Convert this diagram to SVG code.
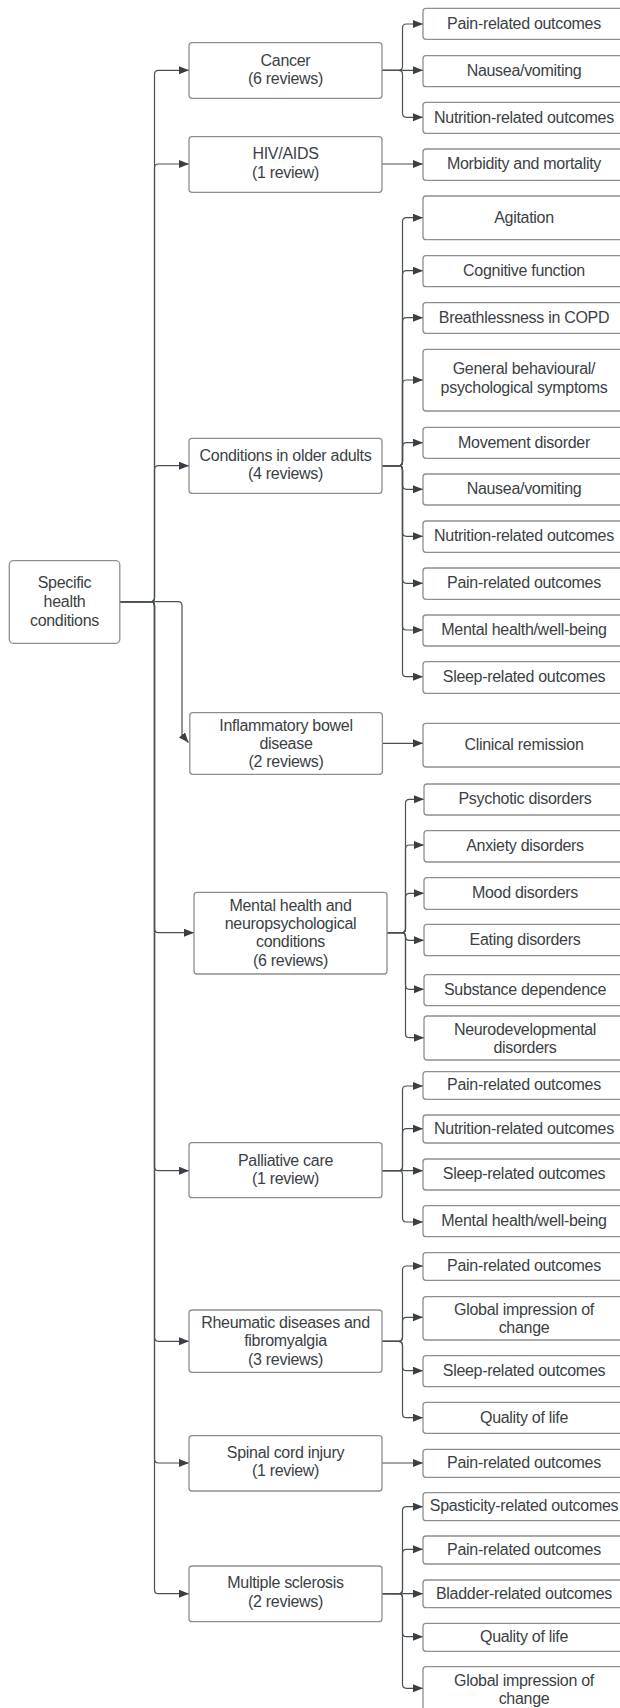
<svg xmlns="http://www.w3.org/2000/svg" width="620" height="1708" viewBox="0 0 620 1708">
<defs>
<style>
.bx{fill:#ffffff;stroke:#8e8e8e;stroke-width:1.3}
.t{font-family:"Liberation Sans",Arial,sans-serif;font-size:16px;letter-spacing:-0.3px;fill:#3b3f45;text-anchor:middle}
.c{fill:none;stroke:#4a4f56;stroke-width:1.2}
</style>
<marker id="ah" markerUnits="userSpaceOnUse" markerWidth="12" markerHeight="10" refX="10" refY="4" orient="auto"><path d="M0,0 L10,4 L0,8 Z" fill="#3a3f46"/></marker>
</defs>
<rect width="620" height="1708" fill="#ffffff"/>

<g id="connectors">
<path class="c" marker-end="url(#ah)" d="M120 601.7 H150.5 Q154.5 601.7 154.5 597.7 V74.3 Q154.5 70.3 158.5 70.3 H189"/>
<path class="c" marker-end="url(#ah)" d="M120 601.7 H150.5 Q154.5 601.7 154.5 597.7 V168 Q154.5 164 158.5 164 H189"/>
<path class="c" marker-end="url(#ah)" d="M120 601.7 H150.5 Q154.5 601.7 154.5 597.7 V469.7 Q154.5 465.7 158.5 465.7 H189"/>
<path class="c" marker-end="url(#ah)" d="M120 601.7 H178 Q182 601.7 182 605.7 V735 L188.5 742.5"/>
<path class="c" marker-end="url(#ah)" d="M120 601.7 H150.5 Q154.5 601.7 154.5 605.7 V928.7 Q154.5 932.7 158.5 932.7 H194"/>
<path class="c" marker-end="url(#ah)" d="M120 601.7 H150.5 Q154.5 601.7 154.5 605.7 V1166.7 Q154.5 1170.7 158.5 1170.7 H189"/>
<path class="c" marker-end="url(#ah)" d="M120 601.7 H150.5 Q154.5 601.7 154.5 605.7 V1337.3 Q154.5 1341.3 158.5 1341.3 H189"/>
<path class="c" marker-end="url(#ah)" d="M120 601.7 H150.5 Q154.5 601.7 154.5 605.7 V1459 Q154.5 1463 158.5 1463 H189"/>
<path class="c" marker-end="url(#ah)" d="M120 601.7 H150.5 Q154.5 601.7 154.5 605.7 V1589.7 Q154.5 1593.7 158.5 1593.7 H189"/>

<path class="c" marker-end="url(#ah)" d="M382 70.3 H398.5 Q402.5 70.3 402.5 66.3 V28 Q402.5 24 406.5 24 H423"/>
<path class="c" marker-end="url(#ah)" d="M382 70.3 H423"/>
<path class="c" marker-end="url(#ah)" d="M382 70.3 H398.5 Q402.5 70.3 402.5 74.3 V113.3 Q402.5 117.3 406.5 117.3 H423"/>

<path class="c" marker-end="url(#ah)" d="M382 164 H423"/>

<path class="c" marker-end="url(#ah)" d="M382 465.7 H398.5 Q402.5 465.7 402.5 461.7 V221.7 Q402.5 217.7 406.5 217.7 H423"/>
<path class="c" marker-end="url(#ah)" d="M382 465.7 H398.5 Q402.5 465.7 402.5 461.7 V274.7 Q402.5 270.7 406.5 270.7 H423"/>
<path class="c" marker-end="url(#ah)" d="M382 465.7 H398.5 Q402.5 465.7 402.5 461.7 V321.7 Q402.5 317.7 406.5 317.7 H423"/>
<path class="c" marker-end="url(#ah)" d="M382 465.7 H398.5 Q402.5 465.7 402.5 461.7 V384 Q402.5 380 406.5 380 H423"/>
<path class="c" marker-end="url(#ah)" d="M382 465.7 H398.5 Q402.5 465.7 402.5 461.7 V446.7 Q402.5 442.7 406.5 442.7 H423"/>
<path class="c" marker-end="url(#ah)" d="M382 465.7 H398.5 Q402.5 465.7 402.5 469.7 V485.3 Q402.5 489.3 406.5 489.3 H423"/>
<path class="c" marker-end="url(#ah)" d="M382 465.7 H398.5 Q402.5 465.7 402.5 469.7 V532.3 Q402.5 536.3 406.5 536.3 H423"/>
<path class="c" marker-end="url(#ah)" d="M382 465.7 H398.5 Q402.5 465.7 402.5 469.7 V579.3 Q402.5 583.3 406.5 583.3 H423"/>
<path class="c" marker-end="url(#ah)" d="M382 465.7 H398.5 Q402.5 465.7 402.5 469.7 V626 Q402.5 630 406.5 630 H423"/>
<path class="c" marker-end="url(#ah)" d="M382 465.7 H398.5 Q402.5 465.7 402.5 469.7 V672.7 Q402.5 676.7 406.5 676.7 H423"/>

<path class="c" marker-end="url(#ah)" d="M382 743.3 H423"/>

<path class="c" marker-end="url(#ah)" d="M387 932.7 H401.5 Q405.5 932.7 405.5 928.7 V803.3 Q405.5 799.3 409.5 799.3 H424"/>
<path class="c" marker-end="url(#ah)" d="M387 932.7 H401.5 Q405.5 932.7 405.5 928.7 V849 Q405.5 845 409.5 845 H424"/>
<path class="c" marker-end="url(#ah)" d="M387 932.7 H401.5 Q405.5 932.7 405.5 928.7 V897.3 Q405.5 893.3 409.5 893.3 H424"/>
<path class="c" marker-end="url(#ah)" d="M387 932.7 H401.5 Q405.5 932.7 405.5 936.7 Q405.5 940.3 409.5 940.3 H424"/>
<path class="c" marker-end="url(#ah)" d="M387 932.7 H401.5 Q405.5 932.7 405.5 936.7 V985.3 Q405.5 989.3 409.5 989.3 H424"/>
<path class="c" marker-end="url(#ah)" d="M387 932.7 H401.5 Q405.5 932.7 405.5 936.7 V1033.7 Q405.5 1037.7 409.5 1037.7 H424"/>

<path class="c" marker-end="url(#ah)" d="M382 1170.7 H398.5 Q402.5 1170.7 402.5 1166.7 V1090 Q402.5 1086 406.5 1086 H423"/>
<path class="c" marker-end="url(#ah)" d="M382 1170.7 H398.5 Q402.5 1170.7 402.5 1166.7 V1132.7 Q402.5 1128.7 406.5 1128.7 H423"/>
<path class="c" marker-end="url(#ah)" d="M382 1170.7 H423"/>
<path class="c" marker-end="url(#ah)" d="M382 1170.7 H398.5 Q402.5 1170.7 402.5 1174.7 V1218 Q402.5 1222 406.5 1222 H423"/>

<path class="c" marker-end="url(#ah)" d="M382 1341.3 H398.5 Q402.5 1341.3 402.5 1337.3 V1270 Q402.5 1266 406.5 1266 H423"/>
<path class="c" marker-end="url(#ah)" d="M382 1341.3 H398.5 Q402.5 1341.3 402.5 1337.3 V1321.3 Q402.5 1317.3 406.5 1317.3 H423"/>
<path class="c" marker-end="url(#ah)" d="M382 1341.3 H398.5 Q402.5 1341.3 402.5 1345.3 V1366.7 Q402.5 1370.7 406.5 1370.7 H423"/>
<path class="c" marker-end="url(#ah)" d="M382 1341.3 H398.5 Q402.5 1341.3 402.5 1345.3 V1413.7 Q402.5 1417.7 406.5 1417.7 H423"/>

<path class="c" marker-end="url(#ah)" d="M382 1463 H423"/>

<path class="c" marker-end="url(#ah)" d="M382 1593.7 H398.5 Q402.5 1593.7 402.5 1589.7 V1510.7 Q402.5 1506.7 406.5 1506.7 H423"/>
<path class="c" marker-end="url(#ah)" d="M382 1593.7 H398.5 Q402.5 1593.7 402.5 1589.7 V1553.3 Q402.5 1549.3 406.5 1549.3 H423"/>
<path class="c" marker-end="url(#ah)" d="M382 1593.7 H423"/>
<path class="c" marker-end="url(#ah)" d="M382 1593.7 H398.5 Q402.5 1593.7 402.5 1597.7 V1632.7 Q402.5 1636.7 406.5 1636.7 H423"/>
<path class="c" marker-end="url(#ah)" d="M382 1593.7 H398.5 Q402.5 1593.7 402.5 1597.7 V1684.3 Q402.5 1688.3 406.5 1688.3 H423"/>
</g>

<g id="root"><rect class="bx" x="9.3" y="560.7" width="110.5" height="82.6" rx="4"/>
<text class="t" x="64.5" y="588">Specific</text><text class="t" x="64.5" y="606.7">health</text><text class="t" x="64.5" y="625.7">conditions</text></g>

<g id="cancer"><rect class="bx" x="189" y="42.7" width="193" height="55.6" rx="3"/>
<text class="t" x="285.5" y="65.7">Cancer</text><text class="t" x="285.5" y="83.7">(6 reviews)</text></g>
<g id="cancer-pain"><rect class="bx" x="423" y="8.3" width="204" height="31" rx="3"/><text class="t" x="524" y="28.5">Pain-related outcomes</text></g>
<g id="cancer-nausea"><rect class="bx" x="423" y="55.7" width="204" height="31" rx="3"/><text class="t" x="524" y="75.9">Nausea/vomiting</text></g>
<g id="cancer-nutrition"><rect class="bx" x="423" y="102.3" width="204" height="31" rx="3"/><text class="t" x="524" y="122.5">Nutrition-related outcomes</text></g>

<g id="hiv"><rect class="bx" x="189" y="136.7" width="193" height="55.6" rx="3"/>
<text class="t" x="285.5" y="159.4">HIV/AIDS</text><text class="t" x="285.5" y="178">(1 review)</text></g>
<g id="hiv-morbidity"><rect class="bx" x="423" y="149" width="204" height="31.3" rx="3"/><text class="t" x="524" y="169.4">Morbidity and mortality</text></g>

<g id="older"><rect class="bx" x="189" y="438.3" width="193" height="55" rx="3"/>
<text class="t" x="285.5" y="460.7">Conditions in older adults</text><text class="t" x="285.5" y="479">(4 reviews)</text></g>
<g id="older-agitation"><rect class="bx" x="423" y="196" width="204" height="43.7" rx="3"/><text class="t" x="524" y="222.6">Agitation</text></g>
<g id="older-cognitive"><rect class="bx" x="423" y="255.7" width="204" height="31" rx="3"/><text class="t" x="524" y="275.9">Cognitive function</text></g>
<g id="older-breath"><rect class="bx" x="423" y="302.7" width="204" height="30.6" rx="3"/><text class="t" x="524" y="322.7">Breathlessness in COPD</text></g>
<g id="older-general"><rect class="bx" x="423" y="349.3" width="204" height="61.7" rx="3"/><text class="t" x="524" y="374.4">General behavioural/</text><text class="t" x="524" y="393">psychological symptoms</text></g>
<g id="older-movement"><rect class="bx" x="423" y="427.3" width="204" height="31" rx="3"/><text class="t" x="524" y="447.5">Movement disorder</text></g>
<g id="older-nausea"><rect class="bx" x="423" y="474" width="204" height="31" rx="3"/><text class="t" x="524" y="494.2">Nausea/vomiting</text></g>
<g id="older-nutrition"><rect class="bx" x="423" y="521" width="204" height="31.3" rx="3"/><text class="t" x="524" y="541.4">Nutrition-related outcomes</text></g>
<g id="older-pain"><rect class="bx" x="423" y="568" width="204" height="31.3" rx="3"/><text class="t" x="524" y="588.4">Pain-related outcomes</text></g>
<g id="older-mental"><rect class="bx" x="423" y="615" width="204" height="31" rx="3"/><text class="t" x="524" y="635.2">Mental health/well-being</text></g>
<g id="older-sleep"><rect class="bx" x="423" y="661.7" width="204" height="31.6" rx="3"/><text class="t" x="524" y="682.2">Sleep-related outcomes</text></g>

<g id="ibd"><rect class="bx" x="189.8" y="712.7" width="192.6" height="61.6" rx="3"/>
<text class="t" x="286" y="730.7">Inflammatory bowel</text><text class="t" x="286" y="749">disease</text><text class="t" x="286" y="767.4">(2 reviews)</text></g>
<g id="ibd-remission"><rect class="bx" x="423" y="723.3" width="204" height="43.7" rx="3"/><text class="t" x="524" y="749.9">Clinical remission</text></g>

<g id="mental"><rect class="bx" x="194" y="892.3" width="193" height="81.7" rx="3"/>
<text class="t" x="290.5" y="910.7">Mental health and</text><text class="t" x="290.5" y="929">neuropsychological</text><text class="t" x="290.5" y="947.4">conditions</text><text class="t" x="290.5" y="965.7">(6 reviews)</text></g>
<g id="mental-psychotic"><rect class="bx" x="424" y="784" width="204" height="31" rx="3"/><text class="t" x="525" y="804.2">Psychotic disorders</text></g>
<g id="mental-anxiety"><rect class="bx" x="424" y="830.7" width="204" height="31.3" rx="3"/><text class="t" x="525" y="851.1">Anxiety disorders</text></g>
<g id="mental-mood"><rect class="bx" x="424" y="877.7" width="204" height="31.6" rx="3"/><text class="t" x="525" y="898.2">Mood disorders</text></g>
<g id="mental-eating"><rect class="bx" x="424" y="924.3" width="204" height="31.4" rx="3"/><text class="t" x="525" y="944.7">Eating disorders</text></g>
<g id="mental-substance"><rect class="bx" x="424" y="974.7" width="204" height="31" rx="3"/><text class="t" x="525" y="994.9">Substance dependence</text></g>
<g id="mental-neurodev"><rect class="bx" x="424" y="1016" width="204" height="44" rx="3"/><text class="t" x="525" y="1035">Neurodevelopmental</text><text class="t" x="525" y="1053">disorders</text></g>

<g id="palliative"><rect class="bx" x="189" y="1142.7" width="193" height="55" rx="3"/>
<text class="t" x="285.5" y="1165.7">Palliative care</text><text class="t" x="285.5" y="1184">(1 review)</text></g>
<g id="palliative-pain"><rect class="bx" x="423" y="1071.7" width="204" height="27.6" rx="3"/><text class="t" x="524" y="1090.2">Pain-related outcomes</text></g>
<g id="palliative-nutrition"><rect class="bx" x="423" y="1115" width="204" height="28" rx="3"/><text class="t" x="524" y="1133.7">Nutrition-related outcomes</text></g>
<g id="palliative-sleep"><rect class="bx" x="423" y="1159" width="204" height="31" rx="3"/><text class="t" x="524" y="1179.2">Sleep-related outcomes</text></g>
<g id="palliative-mental"><rect class="bx" x="423" y="1205.7" width="204" height="31" rx="3"/><text class="t" x="524" y="1225.9">Mental health/well-being</text></g>

<g id="rheumatic"><rect class="bx" x="189" y="1310" width="193" height="62.3" rx="3"/>
<text class="t" x="285.5" y="1328">Rheumatic diseases and</text><text class="t" x="285.5" y="1346.4">fibromyalgia</text><text class="t" x="285.5" y="1364.7">(3 reviews)</text></g>
<g id="rheumatic-pain"><rect class="bx" x="423" y="1252.7" width="204" height="27.6" rx="3"/><text class="t" x="524" y="1271.2">Pain-related outcomes</text></g>
<g id="rheumatic-global"><rect class="bx" x="423" y="1296.7" width="204" height="43.3" rx="3"/><text class="t" x="524" y="1315">Global impression of</text><text class="t" x="524" y="1333.4">change</text></g>
<g id="rheumatic-sleep"><rect class="bx" x="423" y="1355.7" width="204" height="31" rx="3"/><text class="t" x="524" y="1375.9">Sleep-related outcomes</text></g>
<g id="rheumatic-qol"><rect class="bx" x="423" y="1402.3" width="204" height="31" rx="3"/><text class="t" x="524" y="1422.5">Quality of life</text></g>

<g id="spinal"><rect class="bx" x="189" y="1435.7" width="193" height="55.3" rx="3"/>
<text class="t" x="285.5" y="1458">Spinal cord injury</text><text class="t" x="285.5" y="1476">(1 review)</text></g>
<g id="spinal-pain"><rect class="bx" x="423" y="1449.3" width="204" height="28" rx="3"/><text class="t" x="524" y="1468">Pain-related outcomes</text></g>

<g id="ms"><rect class="bx" x="189" y="1566" width="193" height="55.7" rx="3"/>
<text class="t" x="285.5" y="1588.4">Multiple sclerosis</text><text class="t" x="285.5" y="1607">(2 reviews)</text></g>
<g id="ms-spasticity"><rect class="bx" x="423" y="1492.7" width="204" height="28" rx="3"/><text class="t" x="524" y="1511.4">Spasticity-related outcomes</text></g>
<g id="ms-pain"><rect class="bx" x="423" y="1536" width="204" height="28" rx="3"/><text class="t" x="524" y="1554.7">Pain-related outcomes</text></g>
<g id="ms-bladder"><rect class="bx" x="423" y="1580" width="204" height="27.7" rx="3"/><text class="t" x="524" y="1598.6">Bladder-related outcomes</text></g>
<g id="ms-qol"><rect class="bx" x="423" y="1623.3" width="204" height="28" rx="3"/><text class="t" x="524" y="1642">Quality of life</text></g>
<g id="ms-global"><rect class="bx" x="423" y="1666.7" width="204" height="46" rx="3"/><text class="t" x="524" y="1685.7">Global impression of</text><text class="t" x="524" y="1704">change</text></g>
</svg>
